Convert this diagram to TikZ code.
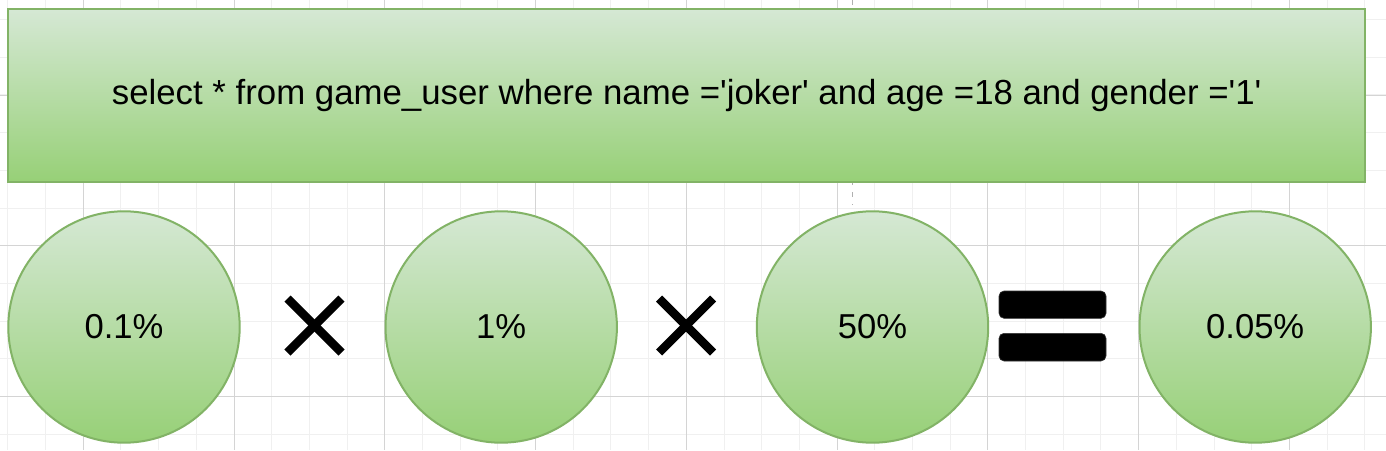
\documentclass[tikz,border=0pt]{standalone}
\usepackage{fontspec}
\setmainfont{Liberation Sans}
\definecolor{gstroke}{HTML}{82B366}
\definecolor{gtop}{HTML}{D5E8D4}
\definecolor{gbot}{HTML}{97D077}
\definecolor{gridminor}{HTML}{F0F0F0}
\definecolor{gridmajor}{HTML}{D4D4D4}
\definecolor{guide}{HTML}{B0B0B0}
\newcommand{\sq}{\textquotesingle}
\tikzset{
  greenbox/.style={draw=gstroke, line width=2pt, top color=gtop, bottom color=gbot,
    rectangle, inner sep=0pt, font=\fontsize{34.8}{40}\selectfont},
  greencirc/.style={draw=gstroke, line width=2pt, top color=gtop, bottom color=gbot,
    circle, inner sep=0pt, minimum size=231.4pt, font=\fontsize{34.6}{40}\selectfont},
  minorline/.style={draw=gridminor, line width=1pt},
  majorline/.style={draw=gridmajor, line width=1pt},
  crossline/.style={line width=8.5pt, line cap=butt, black},
  eqbar/.style={fill=black, draw=black!80, line width=0.6pt, rounded corners=5pt},
  guideline/.style={draw=guide, line width=1.4pt, dash pattern=on 5pt off 7pt}
}
\begin{document}
\begin{tikzpicture}[x=1pt, y=-1pt]
\useasboundingbox (0,0) rectangle (1386,450);
\fill[white] (0,0) rectangle (1386,450);
% grid
\foreach \i in {0,...,36} {
  \draw[minorline] ({7.92+\i*37.69},0) -- ({7.92+\i*37.69},450);
}
\foreach \i in {0,...,11} {
  \draw[minorline] (0,{19.6+\i*37.69}) -- (1386,{19.6+\i*37.69});
}
\foreach \i in {0,...,8} {
  \draw[majorline] ({83.3+\i*150.75},0) -- ({83.3+\i*150.75},450);
}
\foreach \i in {0,...,2} {
  \draw[majorline] (0,{95+\i*150.6}) -- (1386,{95+\i*150.6});
}
% guide dashed line
\coordinate (gA) at (852.7,0);
\coordinate (gB) at (852.7,205);
\draw[guideline] (gA) -- (gB);
% query box
\node[greenbox, minimum width=1356.7pt, minimum height=172.5pt] (query) at (686.7,95.5)
  {select * from game\_user where name =\sq joker\sq{} and age =18 and gender =\sq 1\sq};
% circles
\node[greencirc] (c1) at (124,327) {0.1\%};
\node[greencirc] (c2) at (501.2,327) {1\%};
\node[greencirc] (c3) at (872.5,327) {50\%};
\node[greencirc] (c4) at (1255.2,327) {0.05\%};
% multiplication signs
\coordinate (x1) at (314.5,325.5);
\coordinate (x2) at (686,325.5);
\foreach \p in {x1,x2} {
  \draw[crossline] ([shift={(-27,-27)}]\p) -- ([shift={(27,27)}]\p);
  \draw[crossline] ([shift={(-27,27)}]\p) -- ([shift={(27,-27)}]\p);
}
% equals sign
\draw[eqbar] (999,291) rectangle (1106,318.3);
\draw[eqbar] (999,333.3) rectangle (1106,361);
\end{tikzpicture}
\end{document}
